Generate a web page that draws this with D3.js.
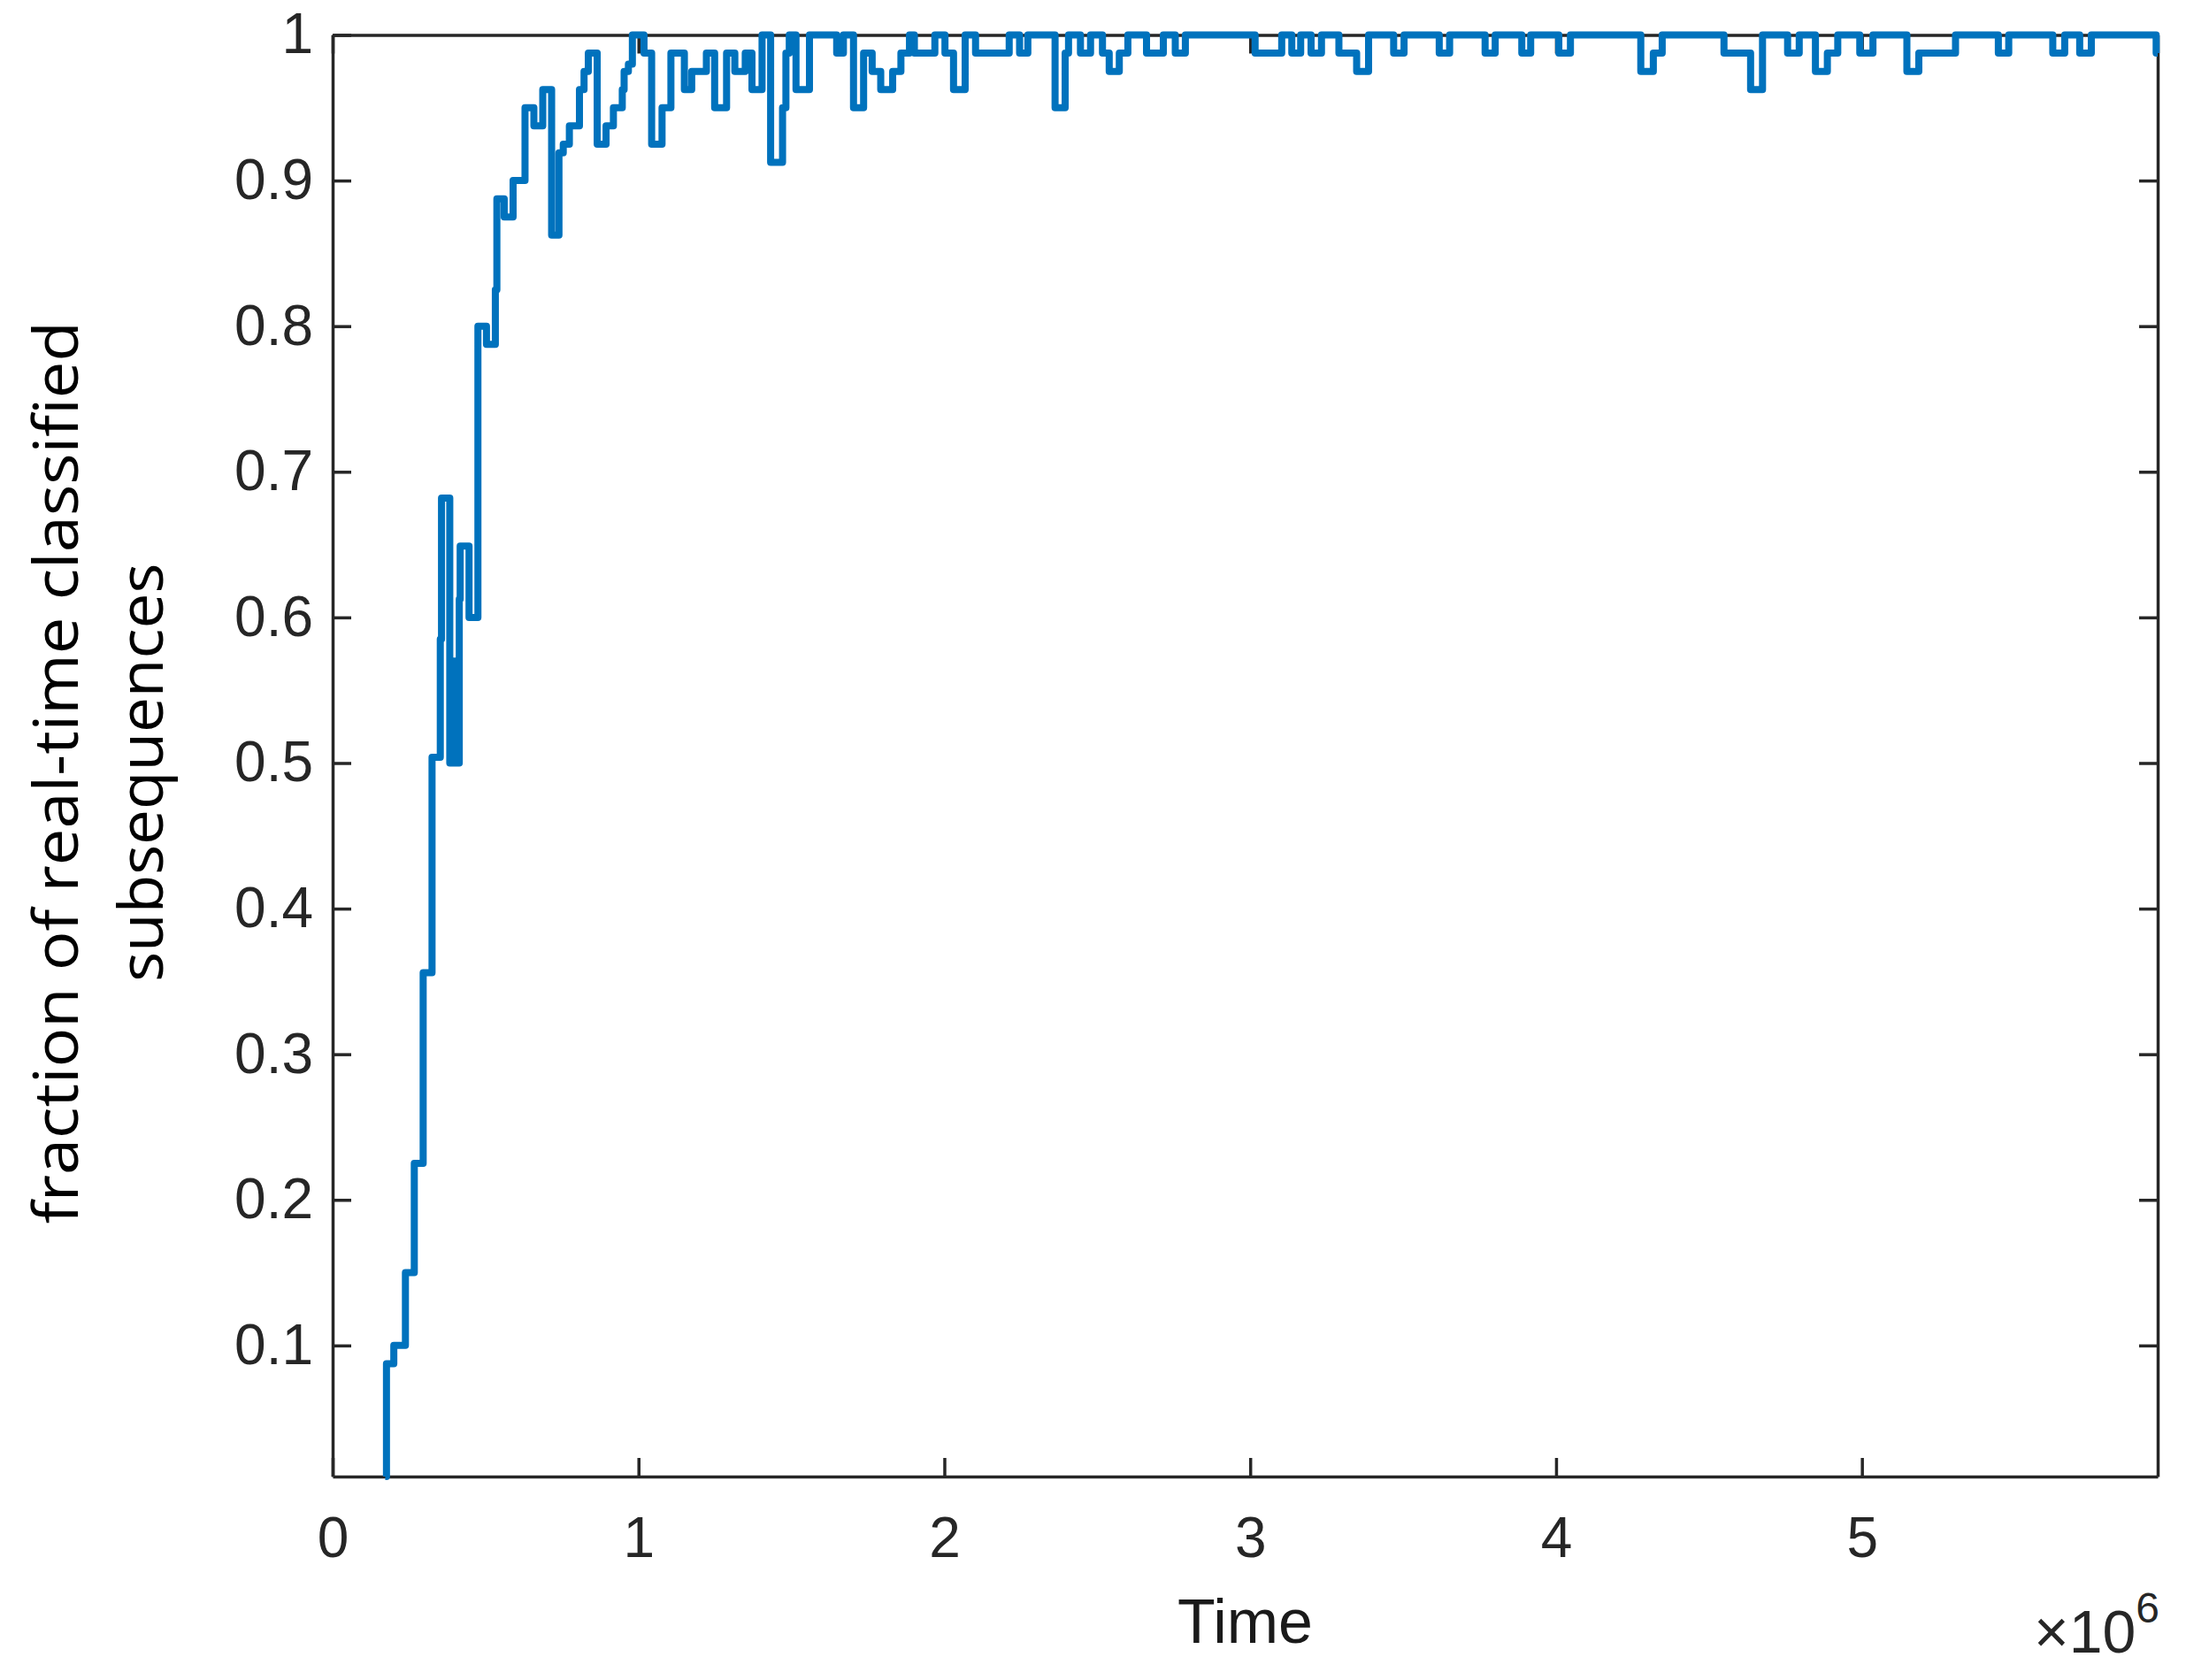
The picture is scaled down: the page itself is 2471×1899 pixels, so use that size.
<!DOCTYPE html>
<html>
<head>
<meta charset="utf-8">
<script src="https://cdn.jsdelivr.net/npm/d3@7"></script>
<style>
    body { margin: 0; background: #ffffff; }
    #chart { width: 2471px; height: 1899px; }
</style>
</head>
<body>
<div id="chart"></div>
<script>

// time (x 10^6) at which the fraction changes, stairs style
const timeMillions = [
    0.172, 0.176, 0.200, 0.238, 0.267, 0.296, 0.325, 0.352, 0.356, 0.383,
    0.392, 0.400, 0.414, 0.417, 0.446, 0.475, 0.503, 0.532, 0.537, 0.561,
    0.590, 0.629, 0.658, 0.687, 0.716, 0.740, 0.754, 0.774, 0.807, 0.822,
    0.836, 0.865, 0.894, 0.918, 0.947, 0.953, 0.967, 0.980, 1.018, 1.043,
    1.077, 1.106, 1.150, 1.174, 1.222, 1.249, 1.288, 1.315, 1.349, 1.371,
    1.404, 1.432, 1.471, 1.482, 1.493, 1.515, 1.559, 1.648, 1.670, 1.703,
    1.736, 1.764, 1.792, 1.831, 1.858, 1.886, 1.902, 1.969, 2.002, 2.030,
    2.068, 2.102, 2.212, 2.246, 2.273, 2.362, 2.395, 2.406, 2.445, 2.478,
    2.517, 2.539, 2.572, 2.600, 2.661, 2.716, 2.755, 2.788, 3.016, 3.103,
    3.136, 3.165, 3.199, 3.233, 3.290, 3.348, 3.387, 3.469, 3.503, 3.618,
    3.652, 3.768, 3.801, 3.888, 3.917, 4.009, 4.047, 4.277, 4.318, 4.347,
    4.549, 4.636, 4.675, 4.757, 4.795, 4.848, 4.887, 4.921, 4.993, 5.036,
    5.147, 5.186, 5.306, 5.446, 5.480, 5.624, 5.663, 5.712, 5.750, 5.962,
    5.967
];

// fraction of real-time classified subsequences
const fractionValues = [
    0.01, 0.0875, 0.1, 0.15, 0.225, 0.356, 0.504, 0.585, 0.682, 0.5,
    0.57, 0.5, 0.6125, 0.649, 0.6, 0.8, 0.7875, 0.825, 0.8875, 0.875,
    0.9, 0.95, 0.9375, 0.9625, 0.8625, 0.919, 0.925, 0.9375, 0.9625, 0.975,
    0.9875, 0.925, 0.9375, 0.95, 0.9625, 0.975, 0.98, 1.0, 0.9875, 0.925,
    0.95, 0.9875, 0.9625, 0.975, 0.9875, 0.95, 0.9875, 0.975, 0.9875, 0.9625,
    1.0, 0.9125, 0.95, 0.9875, 1.0, 0.9625, 1.0, 0.9875, 1.0, 0.95,
    0.9875, 0.975, 0.9625, 0.975, 0.9875, 1.0, 0.9875, 1.0, 0.9875, 0.9625,
    1.0, 0.9875, 1.0, 0.9875, 1.0, 0.95, 0.9875, 1.0, 0.9875, 1.0,
    0.9875, 0.975, 0.9875, 1.0, 0.9875, 1.0, 0.9875, 1.0, 0.9875, 1.0,
    0.9875, 1.0, 0.9875, 1.0, 0.9875, 0.975, 1.0, 0.9875, 1.0, 0.9875,
    1.0, 0.9875, 1.0, 0.9875, 1.0, 0.9875, 1.0, 0.975, 0.9875, 1.0,
    0.9875, 0.9625, 1.0, 0.9875, 1.0, 0.975, 0.9875, 1.0, 0.9875, 1.0,
    0.975, 0.9875, 1.0, 0.9875, 1.0, 0.9875, 1.0, 0.9875, 1.0, 0.9875,
    0.9875
];

// axis ticks
const xTickValues = [0, 1, 2, 3, 4, 5];
const xTickLabels = ["0", "1", "2", "3", "4", "5"];
const yTickValues = [0.1, 0.2, 0.3, 0.4, 0.5, 0.6, 0.7, 0.8, 0.9, 1.0];
const yTickLabels = ["0.1", "0.2", "0.3", "0.4", "0.5", "0.6", "0.7", "0.8", "0.9", "1"];

// axis limits
const xLimits = [0, 5.967];
const yLimits = [0.01, 1];

const yLabelLines = ["fraction of real-time classified", "subsequences"];
const xLabel = "Time";


class StairsVis {

    constructor(parentElement) {
        this.parentElement = parentElement;
        this.initVis();
    }

    initVis() {
        let vis = this;

        vis.margin = {top: 39.5, right: 32, bottom: 230, left: 376};
        vis.width = 2471 - vis.margin.left - vis.margin.right;
        vis.height = 1899 - vis.margin.top - vis.margin.bottom;

        vis.svg = d3.select("#" + vis.parentElement).append("svg")
            .attr("width", 2471)
            .attr("height", 1899)
            .append("g")
            .attr("transform", `translate(${vis.margin.left}, ${vis.margin.top})`);

        // scales
        vis.x = d3.scaleLinear().domain(xLimits).range([0, vis.width]);
        vis.y = d3.scaleLinear().domain(yLimits).range([vis.height, 0]);

        vis.data = timeMillions.map((t, i) => ({t: t, v: fractionValues[i]}));

        vis.updateVis();
    }

    updateVis() {
        let vis = this;
        let axisColor = "#262626";
        let tickFont = "'Liberation Sans', Arial, Helvetica, sans-serif";

        // bottom axis with inward ticks
        let xAxis = d3.axisBottom(vis.x)
            .tickValues(xTickValues)
            .tickFormat((d, i) => xTickLabels[i])
            .tickSizeInner(-21)
            .tickSizeOuter(0)
            .tickPadding(46);

        let yAxis = d3.axisLeft(vis.y)
            .tickValues(yTickValues)
            .tickFormat((d, i) => yTickLabels[i])
            .tickSizeInner(-21)
            .tickSizeOuter(0)
            .tickPadding(22);

        // mirrored box axes, no labels
        let xAxisTop = d3.axisTop(vis.x).tickValues(xTickValues).tickFormat("")
            .tickSizeInner(-21).tickSizeOuter(0);
        let yAxisRight = d3.axisRight(vis.y).tickValues(yTickValues).tickFormat("")
            .tickSizeInner(-21).tickSizeOuter(0);

        vis.svg.append("g").attr("class", "axis x-axis")
            .attr("transform", `translate(0, ${vis.height})`)
            .call(xAxis);
        vis.svg.append("g").attr("class", "axis y-axis")
            .call(yAxis);
        vis.svg.append("g").attr("class", "axis x-axis-top")
            .call(xAxisTop);
        vis.svg.append("g").attr("class", "axis y-axis-right")
            .attr("transform", `translate(${vis.width}, 0)`)
            .call(yAxisRight);

        vis.svg.selectAll(".axis path, .axis line")
            .attr("stroke", axisColor)
            .attr("stroke-width", 3.5);
        vis.svg.selectAll(".axis text")
            .attr("fill", axisColor)
            .style("font-family", tickFont)
            .style("font-size", "64px");

        // the stairs line
        let line = d3.line()
            .x(d => vis.x(d.t))
            .y(d => vis.y(d.v))
            .curve(d3.curveStepAfter);

        vis.svg.append("path")
            .datum(vis.data)
            .attr("fill", "none")
            .attr("stroke", "#0072BD")
            .attr("stroke-width", 8)
            .attr("stroke-linejoin", "round")
            .attr("d", line);

        // x label
        vis.svg.append("text")
            .attr("x", vis.width / 2)
            .attr("y", vis.height + 188)
            .attr("text-anchor", "middle")
            .attr("fill", "#1a1a1a")
            .style("font-family", tickFont)
            .style("font-size", "70px")
            .text(xLabel);

        // x10^6 exponent
        let expo = vis.svg.append("text")
            .attr("x", vis.width + 2)
            .attr("y", vis.height + 199)
            .attr("text-anchor", "end")
            .attr("fill", axisColor)
            .style("font-family", tickFont)
            .style("font-size", "68px");
        expo.append("tspan").text("\u00D710");
        expo.append("tspan")
            .attr("dy", -34)
            .style("font-size", "48px")
            .text("6");

        // y label, two lines
        let yLabelBase = [-288, -192];
        let yLabelLength = [1020, 473];
        yLabelLines.forEach((txt, i) => {
            vis.svg.append("text")
                .attr("transform", `translate(${yLabelBase[i]}, ${vis.height / 2 + 19}) rotate(-90)`)
                .attr("text-anchor", "middle")
                .attr("textLength", yLabelLength[i])
                .attr("lengthAdjust", "spacingAndGlyphs")
                .attr("fill", "#000000")
                .style("font-family", "'Open Sans', 'Noto Sans', sans-serif")
                .style("font-size", "70px")
                .text(txt);
        });
    }
}

new StairsVis("chart");

</script>
</body>
</html>
